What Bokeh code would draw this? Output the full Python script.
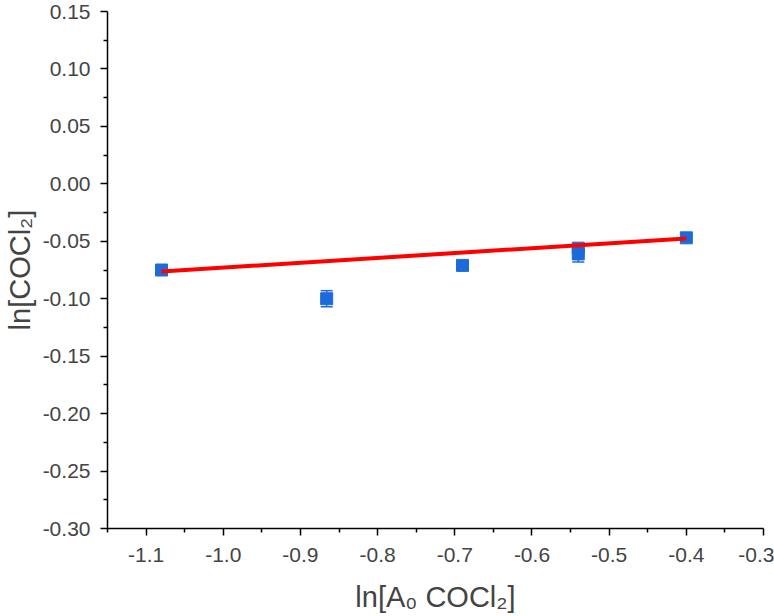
from bokeh.plotting import figure
from bokeh.models import Range1d, FixedTicker, ColumnDataSource, Whisker, TeeHead, CustomJSTickFormatter
from bokeh.embed import file_html
from bokeh.resources import INLINE

# measured points: ln of initial concentration vs ln of COCl2
ln_a0 = [-1.08, -0.866, -0.69, -0.54, -0.54, -0.40]
ln_cocl2 = [-0.075, -0.100, -0.071, -0.056, -0.061, -0.047]
err = [0.003, 0.007, 0.003, 0.003, 0.007, 0.003]

# linear fit line end points
fit_x = [-1.08, -0.40]
fit_y = [-0.0763, -0.0476]

x_ticks = [-1.1, -1.0, -0.9, -0.8, -0.7, -0.6, -0.5, -0.4, -0.3]
x_minor = [-1.15, -1.05, -0.95, -0.85, -0.75, -0.65, -0.55, -0.45, -0.35]
y_ticks = [0.15, 0.10, 0.05, 0.00, -0.05, -0.10, -0.15, -0.20, -0.25, -0.30]
y_minor = [0.125, 0.075, 0.025, -0.025, -0.075, -0.125, -0.175, -0.225, -0.275]

FONT = "Liberation Sans"
BLUE = "#1c6bd8"

p = figure(width=774, height=616, output_backend="svg", toolbar_location=None,
           x_range=Range1d(-1.15, -0.3), y_range=Range1d(-0.30, 0.15),
           min_border_left=106, min_border_right=11, min_border_top=11,
           min_border_bottom=88)
p.outline_line_color = None
p.grid.visible = False
p.background_fill_color = "white"
p.border_fill_color = "white"

src = ColumnDataSource(dict(
    x=ln_a0, y=ln_cocl2,
    lo=[v - e for v, e in zip(ln_cocl2, err)],
    hi=[v + e for v, e in zip(ln_cocl2, err)],
))

whisk = Whisker(source=src, base="x", lower="lo", upper="hi",
                line_color=BLUE, line_width=1.5,
                lower_head=TeeHead(size=12, line_color=BLUE, line_width=1.5),
                upper_head=TeeHead(size=12, line_color=BLUE, line_width=1.5))
p.add_layout(whisk)

p.scatter("x", "y", source=src, marker="square", size=12,
          fill_color=BLUE, line_color=BLUE)

p.line(fit_x, fit_y, line_color="#ff0000", line_width=4)

for ax, label, ticks, minor in (
    (p.xaxis[0], "ln[A\u2080 COCl\u2082]", x_ticks, x_minor),
    (p.yaxis[0], "ln[COCl\u2082]", y_ticks, y_minor),
):
    ax.ticker = FixedTicker(ticks=ticks, minor_ticks=minor)
    ax.axis_label = label
    ax.axis_label_text_font = FONT
    ax.axis_label_text_font_style = "normal"
    ax.axis_label_text_font_size = "29px"
    ax.major_label_text_font = FONT
    ax.major_label_text_font_size = "21px"
    ax.axis_line_width = 1.5
    ax.major_tick_line_width = 1.5
    ax.minor_tick_line_width = 1.5
    ax.major_tick_out = 7
    ax.major_tick_in = 0
    ax.minor_tick_out = 4
    ax.minor_tick_in = 0

p.xaxis.major_label_standoff = 12
p.xaxis.axis_label_standoff = 16
p.yaxis.major_label_standoff = 10
p.yaxis.axis_label_standoff = 4

p.xaxis.formatter = CustomJSTickFormatter(code="return tick.toFixed(1);")
p.yaxis.formatter = CustomJSTickFormatter(code="return tick.toFixed(2);")

open("out.html", "w").write(file_html(p, INLINE))
